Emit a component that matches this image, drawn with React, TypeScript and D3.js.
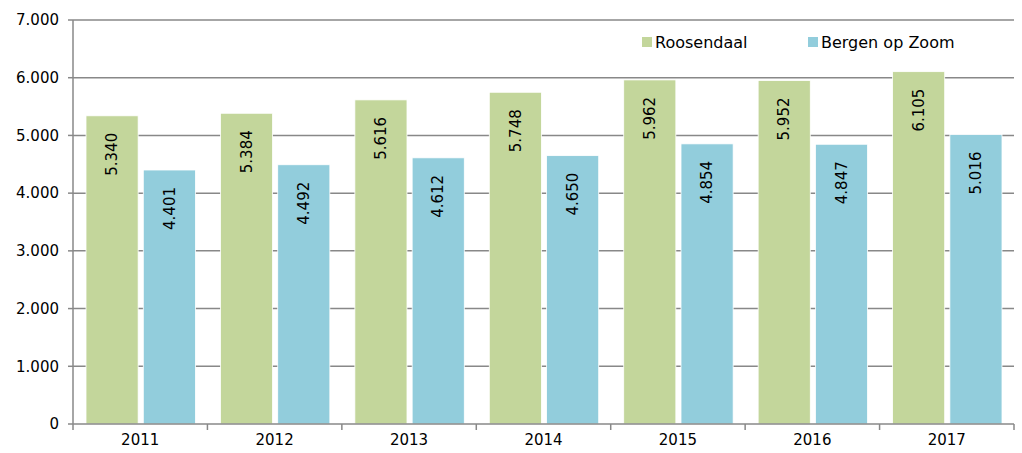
import * as d3 from "d3";

const YEARS = ["2011", "2012", "2013", "2014", "2015", "2016", "2017"];
const ROOSENDAAL = [5340, 5384, 5616, 5748, 5962, 5952, 6105];
const BERGEN = [4401, 4492, 4612, 4650, 4854, 4847, 5016];
const SERIES_NAMES = ["Roosendaal", "Bergen op Zoom"];
const Y_TICKS = [0, 1000, 2000, 3000, 4000, 5000, 6000, 7000];

const WIDTH = 1022;
const HEIGHT = 453;
const MARGIN = { top: 20, right: 8, bottom: 29, left: 73 };
const COLORS = ["#c3d69b", "#92cddc"];
const GRID = "#888888";
const FONT = "Verdana, 'DejaVu Sans', sans-serif";

const fmt = (v: number) => d3.format(",")(v).replace(/,/g, ".");

export default function App() {
  const x = d3
    .scaleBand()
    .domain(YEARS)
    .range([MARGIN.left, WIDTH - MARGIN.right])
    .paddingInner(0)
    .paddingOuter(0);
  const y = d3
    .scaleLinear()
    .domain([0, 7000])
    .range([HEIGHT - MARGIN.bottom, MARGIN.top]);

  const inner = d3
    .scaleBand()
    .domain(["0", "1"])
    .range([13, x.bandwidth() - 12])
    .paddingInner(0.09);

  const series = [ROOSENDAAL, BERGEN];
  const y0 = y(0);

  return (
    <svg
      width={WIDTH}
      height={HEIGHT}
      style={{ position: "absolute", left: 0, top: 0, fontFamily: FONT }}
    >
      {Y_TICKS.map((t) => (
        <g key={t}>
          {t > 0 && (
            <line
              x1={MARGIN.left}
              x2={WIDTH - MARGIN.right}
              y1={y(t)}
              y2={y(t)}
              stroke={GRID}
              strokeWidth={1.5}
            />
          )}
          <line x1={MARGIN.left - 5} x2={MARGIN.left} y1={y(t)} y2={y(t)} stroke={GRID} strokeWidth={1.5} />
          <text
            x={MARGIN.left - 14}
            y={y(t)}
            dy="0.35em"
            textAnchor="end"
            fontSize={15}
            fill="#000"
          >
            {fmt(t)}
          </text>
        </g>
      ))}

      {YEARS.map((yr, i) => (
        <g key={yr} transform={`translate(${x(yr)},0)`}>
          {series.map((vals, s) => {
            const bx = inner(String(s)) as number;
            const bw = inner.bandwidth();
            const top = y(vals[i]);
            return (
              <g key={s}>
                <rect
                  x={bx}
                  y={top}
                  width={bw}
                  height={y0 - top}
                  fill={COLORS[s]}
                  stroke="#ffffff"
                  strokeWidth={0.8}
                />
                <text
                  transform={`translate(${bx + bw / 2},${top + 17}) rotate(-90)`}
                  textAnchor="end"
                  dy="0.35em"
                  fontSize={15}
                  fill="#000"
                >
                  {fmt(vals[i])}
                </text>
              </g>
            );
          })}
          <text
            x={x.bandwidth() / 2}
            y={HEIGHT - 8}
            textAnchor="middle"
            fontSize={15}
            fill="#000"
          >
            {yr}
          </text>
        </g>
      ))}

      {d3.range(YEARS.length + 1).map((k) => {
        const xx = MARGIN.left + k * x.step();
        return <line key={k} x1={xx} x2={xx} y1={y0} y2={y0 + 6} stroke={GRID} strokeWidth={1.5} />;
      })}
      <line x1={MARGIN.left} x2={MARGIN.left} y1={MARGIN.top} y2={y0} stroke={GRID} strokeWidth={1.5} />
      <line x1={MARGIN.left} x2={WIDTH - MARGIN.right} y1={y0} y2={y0} stroke={GRID} strokeWidth={1.5} />

      {SERIES_NAMES.map((name, s) => {
        const lx = s === 0 ? 642 : 808;
        return (
          <g key={name} transform={`translate(${lx},42)`}>
            <rect x={0} y={-5} width={10} height={10} fill={COLORS[s]} />
            <text x={13} dy="0.35em" fontSize={16} fill="#000">
              {name}
            </text>
          </g>
        );
      })}
    </svg>
  );
}
